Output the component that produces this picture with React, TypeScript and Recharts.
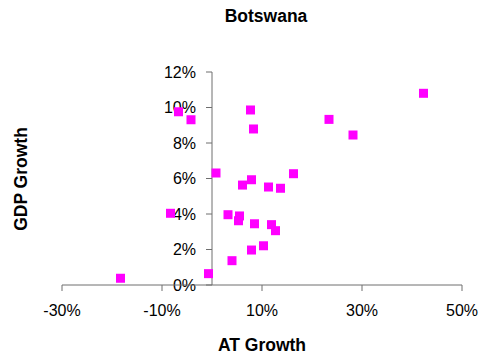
import { ScatterChart, Scatter, XAxis, YAxis, ReferenceLine } from 'recharts';

const atGrowth = [
  42.3, 23.4, 28.2, 7.7, 8.3, -6.7, -4.2, 0.8, 16.3, 7.9, 6.1, 11.3, 13.7,
  -8.3, 3.2, 5.5, 5.3, 8.5, 11.9, 12.7, 10.3, 7.9, 4.0, -0.7, -18.3,
];
const gdpGrowth = [
  10.8, 9.33, 8.45, 9.86, 8.79, 9.76, 9.31, 6.31, 6.27, 5.93, 5.63, 5.52, 5.45,
  4.04, 3.96, 3.89, 3.62, 3.45, 3.4, 3.06, 2.21, 1.97, 1.37, 0.64, 0.38,
];
const xTicks = [-30, -10, 10, 30, 50];
const yTicks = [0, 2, 4, 6, 8, 10, 12];

const points = atGrowth.map((x, i) => ({ x, y: gdpGrowth[i] }));

const W = 482;
const H = 358;
const AXIS = '#6e6e6e';
const FONT = 'Arial, "Liberation Sans", sans-serif';
const pct = (v: number) => `${v}%`;

const Square = (props: any) => {
  const { cx, cy } = props;
  return <rect x={cx - 4.5} y={cy - 4.5} width={9} height={9} fill="#FF00FF" />;
};
const Nothing = () => <g />;

export default function App() {
  return (
    <div style={{ position: 'absolute', left: 0, top: 0, width: W, height: H, background: '#fff', fontFamily: FONT }}>
      {/* y axis crosses at x = 0: drawn by a chart underneath, lined up with the main one */}
      <div style={{ position: 'absolute', left: 0, top: 0 }}>
        <ScatterChart width={W} height={H} margin={{ top: 72, right: 20, bottom: 73, left: 0 }}>
          <XAxis type="number" dataKey="x" domain={[0, 50]} hide height={0} />
          <YAxis
            type="number"
            dataKey="y"
            domain={[0, 12]}
            ticks={yTicks}
            tickFormatter={pct}
            width={212}
            tickSize={6}
            tickMargin={10}
            axisLine={false}
            stroke={AXIS}
            tick={{ fill: '#000', fontSize: 16, fontFamily: FONT }}
          />
          <Scatter data={points} shape={<Nothing />} isAnimationActive={false} />
        </ScatterChart>
      </div>
      <div style={{ position: 'absolute', left: 0, top: 0 }}>
        <ScatterChart width={W} height={H} margin={{ top: 72, right: 20, bottom: 33, left: 62 }}>
          <XAxis
            type="number"
            dataKey="x"
            domain={[-30, 50]}
            ticks={xTicks}
            tickFormatter={pct}
            tickSize={6}
            tickMargin={14}
            height={40}
            stroke={AXIS}
            tick={{ fill: '#000', fontSize: 16, fontFamily: FONT }}
          />
          <YAxis type="number" dataKey="y" domain={[0, 12]} ticks={yTicks} hide width={0} />
          <ReferenceLine x={0} stroke={AXIS} />
          <Scatter data={points} shape={<Square />} isAnimationActive={false} />
        </ScatterChart>
      </div>
      <div style={{ position: 'absolute', left: 0, top: 6, width: 532, textAlign: 'center', fontSize: 17.5, fontWeight: 'bold' }}>
        Botswana
      </div>
      <div style={{ position: 'absolute', left: 0, top: 335, width: 524, textAlign: 'center', fontSize: 17.5, fontWeight: 'bold' }}>
        AT Growth
      </div>
      <div
        style={{
          position: 'absolute',
          left: 21,
          top: 179,
          transform: 'translate(-50%, -50%) rotate(-90deg)',
          whiteSpace: 'nowrap',
          fontSize: 17.5,
          fontWeight: 'bold',
        }}
      >
        GDP Growth
      </div>
    </div>
  );
}
